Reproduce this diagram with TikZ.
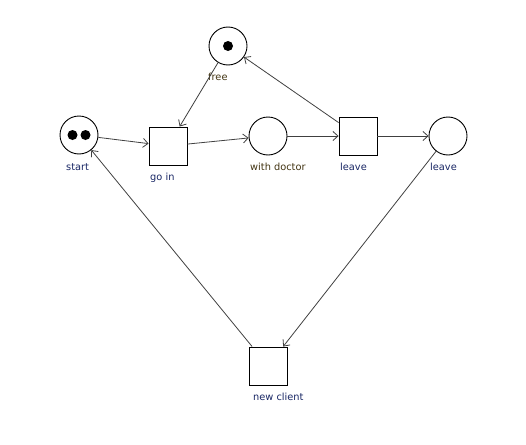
\documentclass[tikz,border=0pt]{standalone}
\usepackage{fontspec}
\setmainfont{DejaVu Sans}
\usetikzlibrary{arrows.meta}
\definecolor{lblblue}{RGB}{24,38,100}
\definecolor{lblbrown}{RGB}{66,52,18}
\definecolor{arc}{RGB}{64,64,64}
\begin{document}
\begin{tikzpicture}[x=1pt,y=-1pt,
  place/.style={circle,draw=black,line width=0.9pt,minimum size=38pt,inner sep=0pt},
  transition/.style={rectangle,draw=black,line width=0.9pt,minimum size=38pt,inner sep=0pt},
  token/.style={fill=black},
  lbl/.style={anchor=west,inner sep=0pt,font=\fontsize{9.8}{12}\selectfont,text=lblblue},
  lblb/.style={lbl,text=lblbrown},
  arc/.style={draw=arc,line width=0.8pt,-{Straight Barb[length=5pt,width=9pt]}}]
  \useasboundingbox (0,0) rectangle (526,444);

  % places and transitions
  \node[place] (free) at (228,46) {};
  \node[place] (start) at (79,135) {};
  \node[transition] (goin) at (168,146) {};
  \node[place] (doctor) at (268,136) {};
  \node[transition] (leaveT) at (358,136) {};
  \node[place] (leaveP) at (448,136) {};
  \node[transition] (newclient) at (268,366) {};

  % tokens
  \fill[token] (free.center) circle (5pt);
  \fill[token] ([xshift=-6.5pt]start.center) circle (5pt);
  \fill[token] ([xshift=6.5pt]start.center) circle (5pt);

  % labels
  \node[lbl]  (start-l)  at (66,167) {start};
  \node[lblb] (free-l)   at (208,77) {free};
  \node[lbl]  (goin-l)   at (150,178) {go in};
  \node[lblb] (doctor-l) at (250,167) {with doctor};
  \node[lbl]  (leaveT-l) at (340,167) {leave};
  \node[lbl]  (leaveP-l) at (430,167) {leave};
  \node[lbl]  (newclient-l) at (253,397) {new client};

  % arcs
  \draw[arc] (free) -- (goin);
  \draw[arc] (start) -- (goin);
  \draw[arc] (goin) -- (doctor);
  \draw[arc] (doctor) -- (leaveT);
  \draw[arc] (leaveT) -- (free);
  \draw[arc] (leaveT) -- (leaveP);
  \draw[arc] (leaveP) -- (newclient);
  \draw[arc] (newclient) -- (start);
\end{tikzpicture}
\end{document}
